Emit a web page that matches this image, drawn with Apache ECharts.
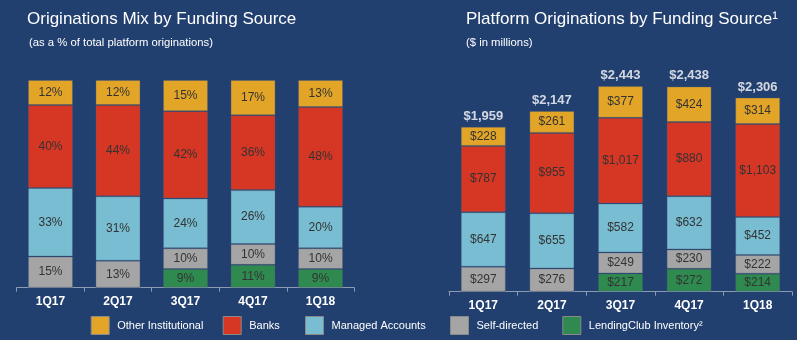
<!DOCTYPE html>
<html><head><meta charset="utf-8">
<script src="https://cdn.jsdelivr.net/npm/echarts@6/dist/echarts.min.js"></script>
<style>html,body{margin:0;padding:0;background:#213f6f}#c{width:797px;height:340px}</style>
</head><body><div id="c"></div>
<script>
// ---- data ----
const categories = ['1Q17', '2Q17', '3Q17', '4Q17', '1Q18'];
const legendNames = ['Other Institutional', 'Banks', 'Managed Accounts', 'Self-directed', 'LendingClub Inventory²'];

// Originations mix (% of total)
const mixLendingClub = [0, 0, 9, 11, 9];
const mixSelfDirected = [15, 13, 10, 10, 10];
const mixManaged = [33, 31, 24, 26, 20];
const mixBanks = [40, 44, 42, 36, 48];
const mixOther = [12, 12, 15, 17, 13];

// Platform originations ($ in millions)
const amtLendingClub = [0, 0, 217, 272, 214];
const amtSelfDirected = [297, 276, 249, 230, 222];
const amtManaged = [647, 655, 582, 632, 452];
const amtBanks = [787, 955, 1017, 880, 1103];
const amtOther = [228, 261, 377, 424, 314];
const amtTotals = [1959, 2147, 2443, 2438, 2306];

// ---- styles ----
const FONT = "'Liberation Sans', Arial, Helvetica, sans-serif";
const colors = {
  'Other Institutional': '#e2a527',
  'Banks': '#d63624',
  'Managed Accounts': '#78bdd2',
  'Self-directed': '#a5a5a5',
  'LendingClub Inventory²': '#2e8a4e'
};
const legendLefts = [90.7, 222.7, 305, 450, 562.3];
const fmtMoney = v => '$' + v.toLocaleString('en-US');

function stackSeries(name, data, gi, fmt) {
  return {
    name, type: 'bar', stack: 's' + gi, xAxisIndex: gi, yAxisIndex: gi,
    data, barWidth: 45,
    itemStyle: { color: colors[name], borderColor: 'rgba(80,95,120,0.35)', borderWidth: 1 },
    label: {
      show: true, position: 'inside', color: '#333', fontFamily: FONT, fontSize: 12,
      formatter: p => p.value ? fmt(p.value) : ''
    },
    emphasis: { disabled: true }
  };
}
const pct = v => v + '%';

const series = [
  stackSeries('LendingClub Inventory²', mixLendingClub, 0, pct),
  stackSeries('Self-directed', mixSelfDirected, 0, pct),
  stackSeries('Managed Accounts', mixManaged, 0, pct),
  stackSeries('Banks', mixBanks, 0, pct),
  stackSeries('Other Institutional', mixOther, 0, pct),
  stackSeries('LendingClub Inventory²', amtLendingClub, 1, fmtMoney),
  stackSeries('Self-directed', amtSelfDirected, 1, fmtMoney),
  stackSeries('Managed Accounts', amtManaged, 1, fmtMoney),
  stackSeries('Banks', amtBanks, 1, fmtMoney),
  stackSeries('Other Institutional', amtOther, 1, fmtMoney),
  {
    name: 'Total', type: 'scatter', xAxisIndex: 1, yAxisIndex: 1,
    data: amtTotals, symbolSize: 0, silent: true,
    label: { show: true, position: 'top', distance: 4, color: '#fff', fontWeight: 'bold',
      fontFamily: FONT, fontSize: 13, formatter: p => fmtMoney(p.value) }
  }
];

const axisCommon = {
  type: 'category', data: categories,
  axisLine: { lineStyle: { color: '#8d9bb1', width: 1 } },
  axisTick: { show: true, length: 4, lineStyle: { color: '#8d9bb1' } },
  axisLabel: { color: '#fff', fontWeight: 'bold', fontFamily: FONT, fontSize: 12, margin: 8 }
};

const legends = legendNames.map((n, i) => ({
  data: [n], left: legendLefts[i], top: 316, padding: 0,
  itemWidth: 18, itemHeight: 18, icon: 'rect',
  itemStyle: { borderColor: '#8a8a8a', borderWidth: 1 },
  textStyle: { color: '#fff', fontFamily: FONT, fontSize: 11, padding: [0, 0, 0, 3] },
  selectedMode: false
}));

const option = {
  backgroundColor: '#213f6f',
  animation: false,
  title: [
    { text: 'Originations Mix by Funding Source', left: 22, top: 6,
      textStyle: { color: '#fff', fontFamily: FONT, fontSize: 17, fontWeight: 'normal' } },
    { text: '(as a % of total platform originations)', left: 24, top: 32,
      textStyle: { color: '#fff', fontFamily: FONT, fontSize: 11.3, fontWeight: 'normal' } },
    { text: 'Platform Originations by Funding Source¹', left: 461, top: 6,
      textStyle: { color: '#fff', fontFamily: FONT, fontSize: 17, fontWeight: 'normal' } },
    { text: '($ in millions)', left: 461, top: 32,
      textStyle: { color: '#fff', fontFamily: FONT, fontSize: 11.3, fontWeight: 'normal' } }
  ],
  legend: legends,
  grid: [
    { left: 16.7, width: 337.6, top: 80, bottom: 52.3 },
    { left: 449, width: 343, top: 81.2, bottom: 48.3 }
  ],
  xAxis: [
    Object.assign({ gridIndex: 0 }, axisCommon),
    Object.assign({ gridIndex: 1 }, axisCommon)
  ],
  yAxis: [
    { type: 'value', gridIndex: 0, min: 0, max: 100, show: false },
    { type: 'value', gridIndex: 1, min: 0, max: 2500, show: false }
  ],
  series
};

const chart = echarts.init(document.getElementById('c'), null, { renderer: 'canvas' });
chart.setOption(option);
</script>
</body></html>
